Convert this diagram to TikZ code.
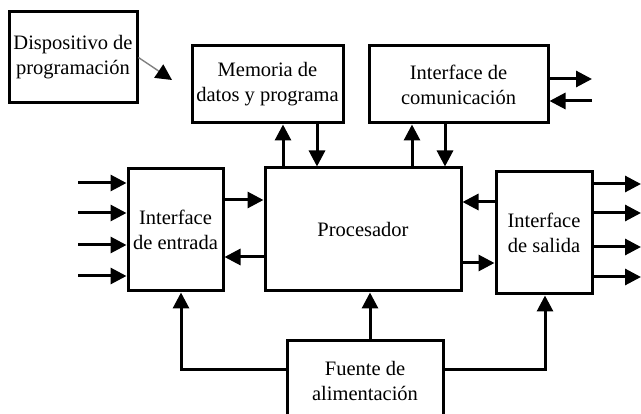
\documentclass[tikz,border=0pt]{standalone}
\usepackage{fontspec}
\setmainfont{Liberation Serif}
\usetikzlibrary{arrows.meta}
\begin{document}
\begin{tikzpicture}[x=1pt,y=-1pt,
  every node/.style={font=\fontsize{20.5}{25}\selectfont, align=center, inner sep=0pt},
  box/.style={draw, line width=3pt, minimum width=#1},
  arr/.style={line width=3pt, -{Triangle[length=16pt,width=16pt]}},
  plain/.style={line width=3pt}]
\useasboundingbox (0,0) rectangle (641,414);
\begin{scope}
\clip (0,0) rectangle (641,414);
\node[box=128pt, minimum height=91pt] (dev) at (73,57.5) {Dispositivo de\\programación};
\node[box=151pt, minimum height=77pt] (mem) at (267.5,84.5) {Memoria de\\datos y programa};
\node[box=179pt, minimum height=77pt] (com) at (458.5,84.5) {Interface de\\comunicación};
\node[box=95pt, minimum height=122pt] (ent) at (175.5,230) {Interface\\de entrada};
\node[box=196pt, minimum height=123pt] (proc) at (363,229.5) {Procesador};
\node[box=96pt, minimum height=122pt] (sal) at (544,233) {Interface\\de salida};
\node[box=156pt, minimum height=80pt] (fue) at (365,381) {Fuente de\\alimentación};
\end{scope}

% programming device
\coordinate (devtip) at (172,80);
\draw[gray, line width=1.4pt, -{Triangle[length=16pt,width=16pt,color=black]}] (dev.east) -- (devtip);

% memory and communication links
\coordinate (m1) at (283,0);
\coordinate (m2) at (317,0);
\coordinate (c1) at (412,0);
\coordinate (c2) at (445,0);
\draw[arr] (proc.north -| m1) -- (mem.south -| m1);
\draw[arr] (mem.south -| m2) -- (proc.north -| m2);
\draw[arr] (proc.north -| c1) -- (com.south -| c1);
\draw[arr] (com.south -| c2) -- (proc.north -| c2);

% communication external
\coordinate (co1) at (592,79);
\coordinate (co2) at (592,101);
\draw[arr] (com.east |- co1) -- (co1);
\draw[arr] (co2) -- (com.east |- co2);

% inputs
\foreach \y [count=\i] in {183,213,245,276}{
  \coordinate (in\i) at (78,\y);
  \draw[arr] (in\i) -- (ent.west |- in\i);
}
% outputs
\foreach \y [count=\i] in {184,213,247,277}{
  \coordinate (out\i) at (641,\y);
  \draw[arr] (sal.east |- out\i) -- (out\i);
}

% entrada <-> procesador
\coordinate (e1) at (0,200);
\coordinate (e2) at (0,257);
\draw[arr] (ent.east |- e1) -- (proc.west |- e1);
\draw[arr] (proc.west |- e2) -- (ent.east |- e2);
% salida <-> procesador
\coordinate (s1) at (0,202);
\coordinate (s2) at (0,263);
\draw[arr] (sal.west |- s1) -- (proc.east |- s1);
\draw[arr] (proc.east |- s2) -- (sal.west |- s2);

% power
\coordinate (p) at (0,370);
\coordinate (pl) at (181,370);
\coordinate (pr) at (545,370);
\draw[arr] (fue.west |- p) -- (pl) -- (ent.south -| pl);
\draw[arr] (fue.east |- p) -- (pr) -- (sal.south -| pr);
\coordinate (pm) at (370,0);
\draw[arr] (fue.north -| pm) -- (proc.south -| pm);
\end{tikzpicture}
\end{document}
